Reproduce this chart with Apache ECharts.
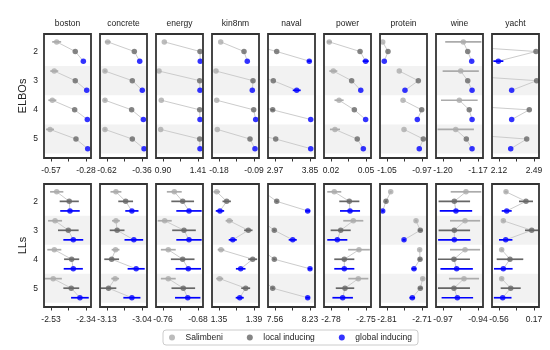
<!DOCTYPE html>
<html><head><meta charset="utf-8">
<script src="https://cdn.jsdelivr.net/npm/echarts@6/dist/echarts.min.js"></script>
<style>html,body{margin:0;padding:0;background:#fff}#c{width:550px;height:350px}</style>
</head><body><div id="c"></div>
<script>
const datasets = ['boston','concrete','energy','kin8nm','naval','power','protein','wine','yacht'];
const levels = [2,3,4,5];
const methods = ['Salimbeni','local inducing','global inducing'];

const elboTicks = [[-0.57,-0.28],[-0.62,-0.36],[0.90,1.41],[-0.18,-0.09],[2.97,3.85],[0.02,0.05],[-1.05,-0.97],[-1.20,-1.17],[2.12,2.49]];
const llTicks = [[-2.53,-2.34],[-3.13,-3.04],[-0.76,-0.68],[1.35,1.39],[7.56,8.23],[-2.78,-2.75],[-2.81,-2.71],[-0.97,-0.94],[-0.56,0.17]];

const elboSalimbeni = [
 [-0.523,-0.543,-0.559,-0.578],
 [-0.615,-0.635,-0.635,-0.635],
 [0.919,0.842,0.875,0.866],
 [-0.1756,-0.1877,-0.1859,-0.1844],
 [2.10,2.05,2.00,1.95],
 [0.0185,0.0220,0.0269,0.0234],
 [-1.0598,-1.0219,-1.0134,-1.0111],
 [-1.1826,-1.1848,-1.1860,-1.1891],
 [1.00,1.00,0.80,1.05]
];
const elboSalimbeniErr = [
 [0.037,0.033,0.033,0.033],
 [0.021,0.008,0.008,0.008],
 [0,0,0,0],
 [0,0,0,0],
 [0,0,0,0],
 [0.002,0.0034,0.0039,0.0043],
 [0,0,0,0],
 [0.0155,0.0155,0.0157,0.0156],
 [0,0,0,0]
];
const elboLocal = [
 [-0.369,-0.369,-0.374,-0.363],
 [-0.417,-0.432,-0.437,-0.432],
 [1.439,1.435,1.435,1.435],
 [-0.1157,-0.0926,-0.0908,-0.1003],
 [3.013,2.927,2.912,2.988],
 [0.0449,0.0377,0.0400,0.0425],
 [-1.0477,-0.9784,-0.9707,-0.9670],
 [-1.1788,-1.1788,-1.1775,-1.1800],
 [2.511,2.518,2.440,2.413]
];
const elboLocalErr = [
 [0,0,0,0],[0,0,0,0],[0,0,0,0],[0,0,0,0],
 [0,0,0.04,0],
 [0,0,0,0],[0,0,0,0],[0,0,0,0],[0,0,0,0]
];
const elboGlobal = [
 [-0.302,-0.274,-0.269,-0.266],
 [-0.377,-0.358,-0.350,-0.345],
 [1.443,1.439,1.439,1.439],
 [-0.1073,-0.0944,-0.0857,-0.0875],
 [3.832,3.516,3.868,3.868],
 [0.0497,0.0455,0.0497,0.0477],
 [-1.0562,-1.0089,-0.9807,-0.9762],
 [-1.1754,-1.1751,-1.1751,-1.1751],
 [2.113,2.254,2.254,2.244]
];
const elboGlobalErr = [
 [0,0,0,0],[0,0,0,0],[0,0,0,0],[0,0,0,0],
 [0.05,0.10,0,0],
 [0.0026,0,0,0],
 [0,0,0,0],[0,0,0,0],
 [0.053,0,0,0]
];

const llSalimbeni = [
 [-2.499,-2.508,-2.512,-2.518],
 [-3.107,-3.107,-3.108,-3.109],
 [-0.7342,-0.7561,-0.7479,-0.7479],
 [1.3474,1.3618,1.3523,1.3508],
 [7.34,7.30,7.30,7.30],
 [-2.7772,-2.7609,-2.7560,-2.7566],
 [-2.7994,-2.7271,-2.7166,-2.7080],
 [-0.9503,-0.9511,-0.9511,-0.9520],
 [-0.414,-0.470,-0.504,-0.504]
];
const llSalimbeniErr = [
 [0.036,0.038,0.038,0.047],
 [0.014,0.010,0.010,0.010],
 [0.017,0.016,0.017,0.017],
 [0.0038,0.0042,0.0038,0.004],
 [0,0,0,0],
 [0.006,0.0086,0.0093,0.0086],
 [0.003,0.003,0.003,0.003],
 [0.0131,0.0129,0.0129,0.0129],
 [0.03,0.02,0.02,0.02]
];
const llLocal = [
 [-2.431,-2.436,-2.418,-2.420],
 [-3.082,-3.104,-3.118,-3.126],
 [-0.7150,-0.7120,-0.7150,-0.7136],
 [1.3588,1.3835,1.3885,1.3805],
 [7.593,7.547,7.547,7.516],
 [-2.7643,-2.7717,-2.7686,-2.7680],
 [-2.8129,-2.7149,-2.7157,-2.7149],
 [-0.9603,-0.9603,-0.9606,-0.9606],
 [0.003,0.122,-0.331,-0.316]
];
const llLocalErr = [
 [0.052,0.056,0.041,0.043],
 [0.019,0.019,0.019,0.020],
 [0.026,0.027,0.027,0.027],
 [0.0048,0.0048,0.0051,0.0051],
 [0.02,0.02,0.02,0.02],
 [0.0086,0.0086,0.0086,0.0079],
 [0.003,0.006,0.005,0.006],
 [0.0135,0.0135,0.0137,0.0137],
 [0.146,0.140,0.277,0.209]
];
const llGlobal = [
 [-2.427,-2.409,-2.409,-2.373],
 [-3.066,-3.061,-3.055,-3.066],
 [-0.7006,-0.7006,-0.7022,-0.7035],
 [1.3511,1.3657,1.3748,1.3737],
 [8.186,7.899,8.230,8.186],
 [-2.7637,-2.7746,-2.7686,-2.7700],
 [-2.8223,-2.7614,-2.7329,-2.7377],
 [-0.9589,-0.9603,-0.9583,-0.9577],
 [-0.399,-0.420,-0.470,-0.483]
];
const llGlobalErr = [
 [0.053,0.054,0.052,0.048],
 [0.017,0.024,0.022,0.022],
 [0.029,0.029,0.029,0.029],
 [0.0048,0.0046,0.0055,0.0046],
 [0.048,0.077,0.038,0.038],
 [0.0086,0.0086,0.0086,0.0088],
 [0.003,0.004,0.007,0.008],
 [0.0139,0.0139,0.0139,0.0135],
 [0.104,0.140,0.194,0.184]
];

// ---- styling / layout ----
const FONT = '"Liberation Sans", Arial, sans-serif';
const methodColors = ['#ababab','#666666','#0000ff'];
const offsets = [-0.33, 0, 0.33];
const rowTop = [34, 184], rowHeight = [124, 123];
const panelLeft0 = 44, panelPitch = 56, panelWidth = 47;

const rows = [
  {label:'ELBOs', ticks:elboTicks, vals:[elboSalimbeni,elboLocal,elboGlobal], errs:[elboSalimbeniErr,elboLocalErr,elboGlobalErr]},
  {label:'LLs', ticks:llTicks, vals:[llSalimbeni,llLocal,llGlobal], errs:[llSalimbeniErr,llLocalErr,llGlobalErr]}
];

const grids=[], xAxes=[], yAxes=[], series=[], graphics=[];
rows.forEach((row, r) => {
  datasets.forEach((ds, d) => {
    const gi = r*9 + d;
    const t0 = row.ticks[d][0], t2 = row.ticks[d][1];
    const span = t2 - t0;
    const xmin = t0 - span*7/35, xmax = t0 + span*40/35;
    grids.push({left: panelLeft0 + panelPitch*d, top: rowTop[r], width: panelWidth, height: rowHeight[r],
      show:true, borderColor:'#333333', borderWidth:1.8, backgroundColor:'transparent', z:5});
    xAxes.push({type:'value', gridIndex:gi, min:xmin, max:xmax,
      axisLine:{show:false}, splitLine:{show:false},
      axisTick:{show:true, customValues:[t0,(t0+t2)/2,t2], length:3.5, lineStyle:{color:'#333', width:1}},
      axisLabel:{show:true, customValues:[t0,t2], formatter:v=>v.toFixed(2), fontSize:8.5, color:'#222', margin:8, fontFamily:FONT}});
    yAxes.push({type:'value', gridIndex:gi, inverse:true, min:1.4, max:5.65,
      axisLine:{show:false}, axisTick:{show:false}, splitLine:{show:false},
      axisLabel:{show:d===0, customValues:levels, fontSize:8.5, color:'#222', margin:6, fontFamily:FONT},
      name: d===0 ? row.label : '', nameLocation:'middle', nameGap:16,
      nameTextStyle:{fontSize:11, color:'#222', fontFamily:FONT}});
    // shaded bands
    series.push({type:'custom', xAxisIndex:gi, yAxisIndex:gi, silent:true, z:1,
      data:[[xmin,2.5,3.5],[xmin,4.5,5.5]],
      renderItem:(p,api)=>{
        const cs=p.coordSys;
        const a=api.coord([api.value(0),api.value(1)])[1], b=api.coord([api.value(0),api.value(2)])[1];
        return {type:'rect', shape:{x:cs.x, y:Math.min(a,b), width:cs.width, height:Math.abs(b-a)}, style:{fill:'#f2f2f2'}};
      }});
    // connectors
    series.push({type:'custom', xAxisIndex:gi, yAxisIndex:gi, silent:true, z:2, clip:true,
      data: levels.map((c,k)=>[row.vals[0][d][k], row.vals[1][d][k], row.vals[2][d][k], c]),
      renderItem:(p,api)=>{
        const c=api.value(3);
        const pts=[0,1,2].map(m=>api.coord([api.value(m), c+offsets[m]]));
        return {type:'polyline', shape:{points:pts}, style:{stroke:'#cccccc', lineWidth:1, fill:null}};
      }});
    // error bars and points
    methods.forEach((mName, m) => {
      series.push({type:'custom', xAxisIndex:gi, yAxisIndex:gi, silent:true, z:3, clip:true,
        data: levels.map((c,k)=>[row.vals[m][d][k], c+offsets[m], row.errs[m][d][k]]),
        renderItem:(p,api)=>{
          const x=api.value(0), y=api.value(1), e=api.value(2);
          if (!e) return null;
          const a=api.coord([x-e,y]), b=api.coord([x+e,y]);
          return {type:'line', shape:{x1:a[0],y1:a[1],x2:b[0],y2:b[1]}, style:{stroke:methodColors[m], lineWidth:1.7}};
        }});
      series.push({type:'scatter', name:mName, xAxisIndex:gi, yAxisIndex:gi, z:4, clip:true,
        symbol:'circle', symbolSize:5.5, itemStyle:{color:methodColors[m]},
        data: levels.map((c,k)=>[row.vals[m][d][k], c+offsets[m]])});
    });
    if (r===0) {
      graphics.push({type:'text', x: panelLeft0 + panelPitch*d + panelWidth/2, y: 24,
        style:{text:ds, align:'center', verticalAlign:'middle', textAlign:'center', textVerticalAlign:'middle',
          fontSize:8.5, fill:'#222', fontFamily:FONT}});
    }
  });
});

const chart = echarts.init(document.getElementById('c'));
chart.setOption({
  animation:false,
  backgroundColor:'#fff',
  textStyle:{fontFamily:FONT},
  grid:grids, xAxis:xAxes, yAxis:yAxes, series:series, graphic:graphics,
  legend:{data:methods, left:163, top:330, itemWidth:17, itemHeight:6, itemGap:24, padding:[3,6,3,6],
    borderColor:'#cccccc', borderWidth:1, borderRadius:3, icon:'circle', selectedMode:false,
    textStyle:{fontSize:8.5, color:'#222', fontFamily:FONT}}
});
</script></body></html>
